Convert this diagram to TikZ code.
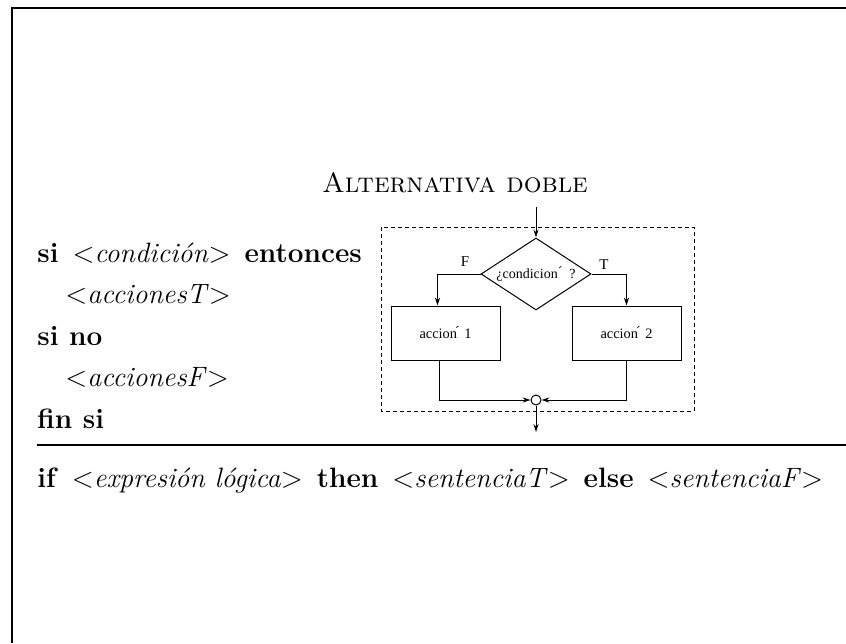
\documentclass[tikz,border=0pt]{standalone}
\usepackage{fontspec}
\newfontfamily\tms{Liberation Serif}
\usepackage{tikz}
\usetikzlibrary{arrows.meta, positioning, shapes.geometric, calc}

\begin{document}
\begin{tikzpicture}[x=0.5pt, y=-0.5pt,
    txt/.style={inner sep=0pt, anchor=base west, font=\fontsize{14}{17}\selectfont},
    box/.style={draw, line width=0.5pt, minimum width=54.5pt, minimum height=27pt, inner sep=0pt, font=\tms\fontsize{7.2}{9}\selectfont},
    cond/.style={draw, diamond, aspect=2, line width=0.5pt, minimum width=55pt, minimum height=36pt, inner sep=0pt, font=\tms\fontsize{7}{9}\selectfont},
    lbl/.style={inner sep=0pt, font=\tms\fontsize{7.5}{9}\selectfont},
    arr/.style={-{Stealth[length=4pt, width=2.6pt]}, line width=0.5pt}
]
\useasboundingbox (0,0) rectangle (846,643);
% frame
\draw[line width=1.4pt] (12,643) -- (12,8) -- (846,8);

% pseudocode
\node[txt, anchor=base] (title) at (455,192) {\textsc{Alternativa doble}};
\node[txt] (l1) at (37,262) {\textbf{si}\enspace$<$\textit{condición}$>$\enspace\textbf{entonces}};
\node[txt] (l2) at (65,303) {$<$\textit{accionesT}$>$};
\node[txt] (l3) at (37,345) {\textbf{si no}};
\node[txt] (l4) at (65,386) {$<$\textit{accionesF}$>$};
\node[txt] (l5) at (37,428) {\textbf{fin si}};
\draw[line width=0.6pt] (37,445) -- (846,445);
\node[txt] (l6) at (37,487) {\textbf{if}\enspace$<$\textit{expresión lógica}$>$\enspace\textbf{then}\enspace$<$\textit{sentenciaT}$>$\enspace\textbf{else}\enspace$<$\textit{sentenciaF}$>$};

% flowchart
\draw[dash pattern=on 2pt off 1.5pt, line width=0.5pt] (381,227) rectangle (694,411);
\coordinate (in) at (536,207);
\node[cond] (c) at (536,274) {¿condicion\raisebox{0.3ex}{´}\enspace?};
\node[box] (a1) at (445.5,333) {accion\hbox to 0pt{\kern-0.15em\raisebox{0.3ex}{´}\hss}\enspace1};
\node[box] (a2) at (626.5,333) {accion\hbox to 0pt{\kern-0.15em\raisebox{0.3ex}{´}\hss}\enspace2};
\node[draw, circle, line width=0.5pt, minimum size=5pt, inner sep=0pt] (j) at (536,400) {};
\coordinate (out) at (536,432);
\node[lbl] (f) at (465,262) {F};
\node[lbl] (t) at (604,265) {T};

\draw[arr] (in) -- (c.north);
\draw[arr] (c.west) -| ([xshift=-4pt]a1.north);
\draw[arr] (c.east) -| (a2.north);
\draw[arr] ([xshift=-3pt]a1.south) |- (j.west);
\draw[arr] (a2.south) |- (j.east);
\draw[arr] (j.south) -- (out);
\end{tikzpicture}
\end{document}
